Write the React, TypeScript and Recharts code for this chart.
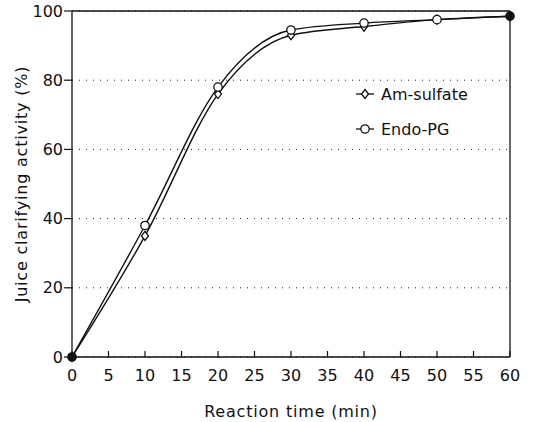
import { LineChart, Line, XAxis, YAxis, CartesianGrid, ReferenceLine } from "recharts";

const times = [0, 10, 20, 30, 40, 50, 60];
const amSulfate = [0, 35, 76, 93, 95.5, 97.5, 98.5];
const endoPG = [0, 38, 78, 94.5, 96.5, 97.5, 98.5];
const xTicks = [0, 5, 10, 15, 20, 25, 30, 35, 40, 45, 50, 55, 60];
const yTicks = [0, 20, 40, 60, 80, 100];
const seriesNames = ["Am-sulfate", "Endo-PG"];

const data = times.map((t, i) => ({ t, am: amSulfate[i], endo: endoPG[i] }));

const font = "'DejaVu Sans', sans-serif";

const Diamond = (props: any) => {
  const { cx, cy, index } = props;
  if (cx == null || cy == null) return null;
  const filled = index === 0 || index === times.length - 1;
  return (
    <path
      d={`M${cx},${cy - 4.5} L${cx + 3.5},${cy} L${cx},${cy + 4.5} L${cx - 3.5},${cy} Z`}
      fill={filled ? "#111" : "#fff"}
      stroke="#111"
      strokeWidth={1.3}
    />
  );
};

const Circle = (props: any) => {
  const { cx, cy, index } = props;
  if (cx == null || cy == null) return null;
  const filled = index === 0 || index === times.length - 1;
  return <circle cx={cx} cy={cy} r={4.2} fill={filled ? "#111" : "#fff"} stroke="#111" strokeWidth={1.3} />;
};

const XTick = (props: any) => {
  const { x, y, payload } = props;
  return (
    <g>
      <line x1={x} y1={y} x2={x} y2={y - 6} stroke="#111" strokeWidth={1.2} />
      <text x={x} y={y + 24} textAnchor="middle" fontSize={16} fontFamily={font} fill="#111">
        {payload.value}
      </text>
    </g>
  );
};

export default function App() {
  return (
    <div style={{ position: "absolute", left: 0, top: 0, width: 533, height: 422, background: "#fff" }}>
      <LineChart width={533} height={422} data={data} margin={{ top: 11, right: 23, bottom: 0, left: 0 }}>
        <CartesianGrid vertical={false} stroke="#222" strokeDasharray="1 6" />
        <XAxis
          dataKey="t"
          type="number"
          domain={[0, 60]}
          ticks={xTicks}
          interval={0}
          height={65}
          tickLine={false}
          tickSize={0}
          tickMargin={0}
          tick={<XTick />}
          axisLine={{ stroke: "#111", strokeWidth: 1.3 }}
          label={{ value: "Reaction time (min)", position: "insideBottom", offset: 5, fontSize: 16, fontFamily: font, fill: "#111", letterSpacing: 0.8 }}
        />
        <YAxis
          type="number"
          domain={[0, 100]}
          ticks={yTicks}
          interval={0}
          width={72}
          tickSize={8}
          tickMargin={1}
          tick={{ fontSize: 16, fontFamily: font, fill: "#111" }}
          tickLine={{ stroke: "#111", strokeWidth: 1.2 }}
          axisLine={{ stroke: "#111", strokeWidth: 1.3 }}
          label={{ value: "Juice clarifying activity (%)", angle: -90, position: "insideLeft", offset: 21, fontSize: 16, fontFamily: font, fill: "#111", letterSpacing: 0.8, style: { textAnchor: "middle" } }}
        />
        <ReferenceLine y={100} stroke="#111" strokeWidth={1.3} />
        <ReferenceLine x={60} stroke="#111" strokeWidth={1.3} />
        <Line type="monotone" dataKey="am" stroke="#111" strokeWidth={1.4} dot={<Diamond />} isAnimationActive={false} />
        <Line type="monotone" dataKey="endo" stroke="#111" strokeWidth={1.4} dot={<Circle />} isAnimationActive={false} />
      </LineChart>
      <svg width={140} height={60} style={{ position: "absolute", left: 354, top: 82 }}>
        <line x1={2} y1={12} x2={20} y2={12} stroke="#111" strokeWidth={1.3} />
        <path d="M11,7.5 L14.5,12 L11,16.5 L7.5,12 Z" fill="#fff" stroke="#111" strokeWidth={1.3} />
        <text x={27} y={17.5} fontSize={16} fontFamily={font} fill="#111">{seriesNames[0]}</text>
        <line x1={2} y1={47} x2={20} y2={47} stroke="#111" strokeWidth={1.3} />
        <circle cx={11} cy={47} r={4.2} fill="#fff" stroke="#111" strokeWidth={1.3} />
        <text x={27} y={52.5} fontSize={16} fontFamily={font} fill="#111">{seriesNames[1]}</text>
      </svg>
    </div>
  );
}
